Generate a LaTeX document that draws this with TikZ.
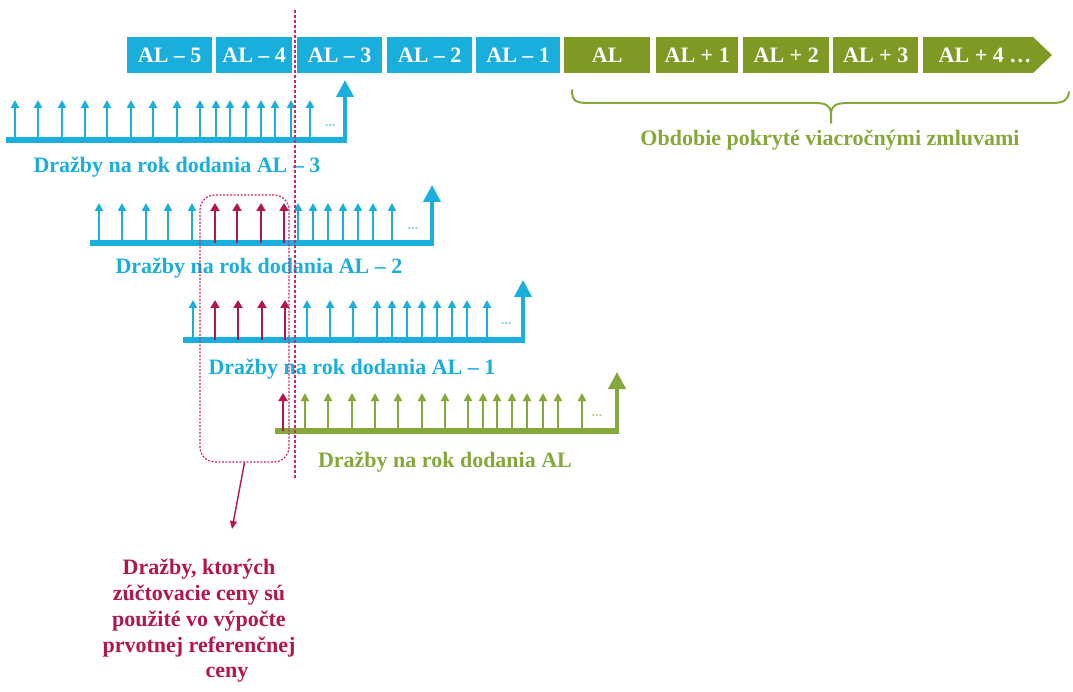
\documentclass[tikz,border=0pt]{standalone}
\usepackage{fontspec}
\setmainfont{Liberation Serif}
\usetikzlibrary{arrows.meta,calc}
\definecolor{cblue}{HTML}{1AAEDC}
\definecolor{cgreen}{HTML}{7E9A24}
\definecolor{lgreen}{HTML}{85A83A}
\definecolor{cred}{HTML}{B5154F}
\definecolor{cpink}{HTML}{CC2666}
\begin{document}
\begin{tikzpicture}[x=1pt,y=-1pt,
  lbl/.style={font=\fontsize{22}{25.7}\selectfont\bfseries, inner sep=0pt},
  box/.style={minimum height=36pt, inner sep=0pt, text=white, font=\fontsize{22}{25}\selectfont\bfseries, anchor=west},
  bluebox/.style={box, fill=cblue},
  greenbox/.style={box, fill=cgreen},
  boxtext/.style={inner sep=0pt, text=white, font=\fontsize{22}{25}\selectfont\bfseries},
  baseline/.style={line width=5.5pt, line cap=butt},
  stem/.style={line width=4pt, -{Triangle[length=17pt,width=17pt]}},
  sarr/.style={line width=2pt, -{Triangle[length=8pt,width=8pt]}},
  rarr/.style={line width=2.6pt, -{Triangle[length=8pt,width=9pt]}},
  dots/.style={font=\fontsize{14}{14}\selectfont\bfseries, inner sep=0pt},
  redline/.style={cpink, line width=1.8pt, dash pattern=on 3pt off 2pt},
  selbox/.style={draw=cpink, line width=1.2pt, dash pattern=on 2pt off 1.5pt, rounded corners=15pt, inner sep=0pt},
]
\useasboundingbox (0,0) rectangle (1073,692);

% ---- row 1 : AL-3
\draw[baseline, cblue] (6,140) -- (347,140);
\draw[stem, cblue] (345,142) -- (345,80);
\foreach \x in {15,38,62,85,107,131,153,177,200,216,230,246,261,275,291,310}
  \draw[sarr, cblue] (\x,140) -- (\x,100);
\node[dots, text=cblue!55] (d1) at (330,126) {...};
\node[lbl, text=cblue] (l1) at (177,167) {Dražby na rok dodania AL – 3};

% ---- row 2 : AL-2
\draw[baseline, cblue] (90,243) -- (434,243);
\draw[stem, cblue] (432,245) -- (432,185);
\foreach \x in {99,122,146,168,192,298,313,328,343,358,373,392}
  \draw[sarr, cblue] (\x,243) -- (\x,203);
\foreach \x in {215,237,261,284}
  \draw[rarr, cred] (\x,243) -- (\x,203);
\node[dots, text=cblue!55] (d2) at (413,229) {...};
\node[lbl, text=cblue] (l2) at (259,268) {Dražby na rok dodania AL – 2};

% ---- row 3 : AL-1
\draw[baseline, cblue] (183,340) -- (525,340);
\draw[stem, cblue] (523,342) -- (523,280);
\foreach \x in {193,307,330,353,377,392,407,422,437,452,467,487}
  \draw[sarr, cblue] (\x,340) -- (\x,300);
\foreach \x in {215,238,262,285}
  \draw[rarr, cred] (\x,340) -- (\x,300);
\node[dots, text=cblue!55] (d3) at (506,324) {...};
\node[lbl, text=cblue] (l3) at (352,369) {Dražby na rok dodania AL – 1};

% ---- row 4 : AL
\draw[baseline, lgreen] (275,431) -- (619,431);
\draw[stem, lgreen] (617,433) -- (617,372);
\foreach \x in {305,328,352,375,398,422,445,468,483,497,512,527,543,558,582}
  \draw[sarr, lgreen] (\x,431) -- (\x,393);
\draw[rarr, cred] (283,431) -- (283,393);
\node[dots, text=lgreen!55] (d4) at (597,416) {...};
\node[lbl, text=lgreen] (l4) at (445,462) {Dražby na rok dodania AL};

% ---- selection box and note
\node[selbox, minimum width=89pt, minimum height=267pt] (sel) at (244.5,328.5) {};
\coordinate (tipc) at (232,529);
\draw[cred, line width=1.4pt, -{Triangle[length=8pt,width=7pt]}] (sel.south) -- (tipc);
\node[lbl, text=cred, align=center] (note) at (199,621)
  {Dražby, ktorých\\zúčtovacie ceny sú\\použité vo výpočte\\prvotnej referenčnej\\\hspace*{56pt}ceny};

% ---- vertical red dashed line
\coordinate (vtop) at (295,10);
\coordinate (vbot) at (295,478);
\draw[redline] (vtop) -- (vbot);

% ---- top bar
\node[bluebox, minimum width=85pt] (b5) at (127,55) {AL – 5};
\node[bluebox, minimum width=76pt] (b4) at (216,55) {AL – 4};
\node[bluebox, minimum width=85pt] (b3) at (297,55) {AL – 3};
\node[bluebox, minimum width=85pt] (b2) at (387,55) {AL – 2};
\node[bluebox, minimum width=84pt] (b1) at (476,55) {AL – 1};
\node[greenbox, minimum width=86pt] (g0) at (564,55) {AL};
\node[greenbox, minimum width=82pt] (g1) at (656,55) {AL + 1};
\node[greenbox, minimum width=86pt] (g2) at (743,55) {AL + 2};
\node[greenbox, minimum width=85pt] (g3) at (833,55) {AL + 3};
\fill[cgreen] (923,37) -- (1033,37) -- (1052,55) -- (1033,73) -- (923,73) -- cycle;
\node[boxtext] (g4) at (985,55) {AL + 4 …};

% ---- brace
\draw[lgreen, line width=2pt, line cap=round]
  (572,90) .. controls (572,101) and (576,103) .. (588,103) -- (815,103)
  .. controls (826,103) and (830,106) .. (831,112) -- (831,123);
\draw[lgreen, line width=2pt, line cap=round]
  (831,112) .. controls (832,106) and (836,103) .. (847,103) -- (1052,103)
  .. controls (1064,103) and (1068,100) .. (1069,92);
\node[lbl, text=lgreen] (obd) at (830,140) {Obdobie pokryté viacročnými zmluvami};
\end{tikzpicture}
\end{document}
